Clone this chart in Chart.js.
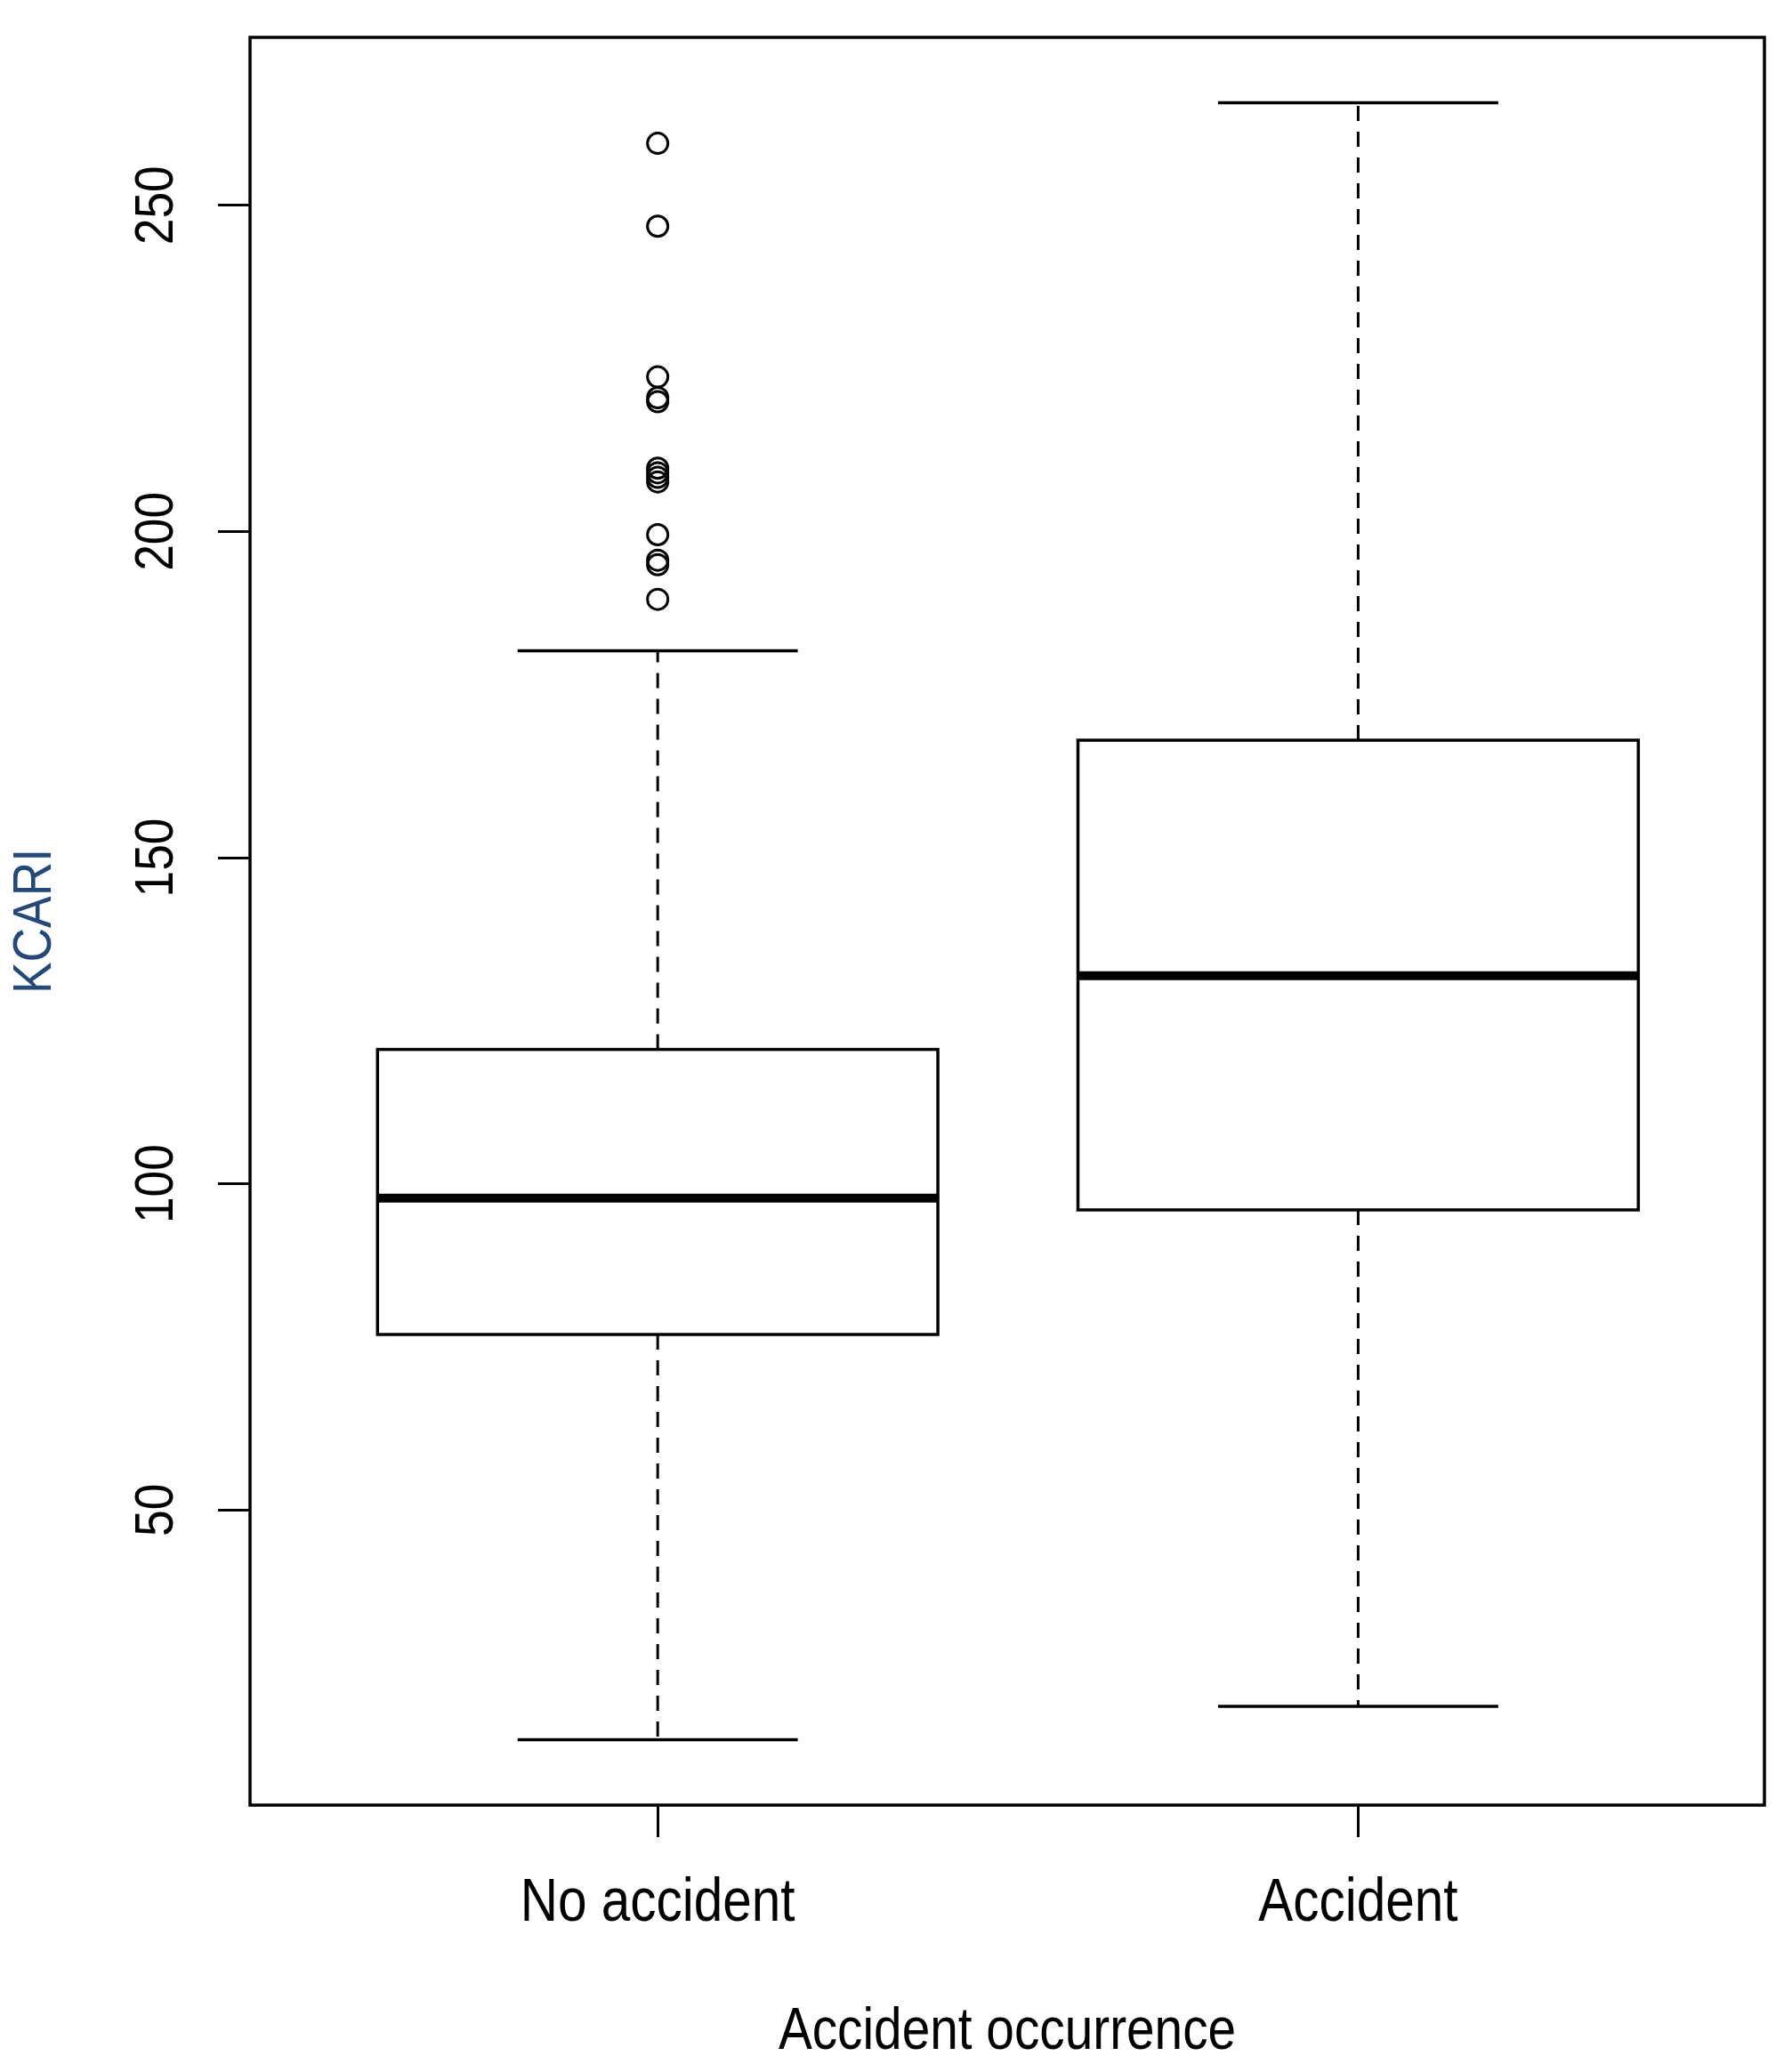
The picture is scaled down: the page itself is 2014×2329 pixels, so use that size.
<!DOCTYPE html>
<html>
<head>
<meta charset="utf-8">
<title>KCARI by accident occurrence</title>
<script src="https://cdn.jsdelivr.net/npm/chart.js@4.4.1/dist/chart.umd.min.js"></script>
<style>
    html, body { margin: 0; padding: 0; background: #fff; }
    #chart { display: block; }
</style>
</head>
<body>
<canvas id="chart" width="2014" height="2329"></canvas>
<script>
// Box plot values
const categories = ['No accident', 'Accident'];
const whiskerLow = [14.8, 19.9];
const q1 = [76.9, 96.0];
const median = [97.8, 131.9];
const q3 = [120.6, 168.0];
const whiskerHigh = [181.7, 265.7];
const outliersNoAccident = [259.5, 246.8, 223.7, 220.5, 219.9, 209.7, 209.0, 208.3, 207.6, 199.5, 195.6, 194.9, 189.6];
const outliersAccident = [];
const yTicks = [50, 100, 150, 200, 250];

const FONT = "'Liberation Sans', Arial, sans-serif";
// the original labels use a narrow face, so squeeze text along its own direction
const CONDENSE = 0.86;

function condenseText(context) {
    const fill = context.fillText.bind(context);
    context.fillText = function(text, x, y, maxWidth) {
        context.save();
        context.translate(x, y);
        context.scale(CONDENSE, 1);
        if (maxWidth === undefined) {
            fill(text, 0, 0);
        } else {
            fill(text, 0, 0, maxWidth / CONDENSE);
        }
        context.restore();
    };
}

// Draws boxes, whiskers, medians and the frame through the chart scales
const boxPlugin = {
    id: 'boxes',
    beforeDatasetsDraw(chart) {
        const { ctx, chartArea, scales: { x, y } } = chart;
        const boxHalf = 0.4;
        const capHalf = 0.2;

        function line(x1, y1, x2, y2) {
            ctx.beginPath();
            ctx.moveTo(x1, y1);
            ctx.lineTo(x2, y2);
            ctx.stroke();
        }

        ctx.save();
        ctx.strokeStyle = '#000';
        ctx.lineCap = 'butt';

        categories.forEach((cat, i) => {
            const pos = i + 1;
            const cx = x.getPixelForValue(pos);
            const bl = x.getPixelForValue(pos - boxHalf);
            const br = x.getPixelForValue(pos + boxHalf);
            const sl = x.getPixelForValue(pos - capHalf);
            const sr = x.getPixelForValue(pos + capHalf);

            // dashed whiskers
            ctx.lineWidth = 3;
            ctx.setLineDash([17, 12]);
            line(cx, y.getPixelForValue(q3[i]), cx, y.getPixelForValue(whiskerHigh[i]));
            line(cx, y.getPixelForValue(q1[i]), cx, y.getPixelForValue(whiskerLow[i]));
            ctx.setLineDash([]);

            // whisker caps
            ctx.lineWidth = 3.5;
            line(sl, y.getPixelForValue(whiskerHigh[i]), sr, y.getPixelForValue(whiskerHigh[i]));
            line(sl, y.getPixelForValue(whiskerLow[i]), sr, y.getPixelForValue(whiskerLow[i]));

            // box
            const top = y.getPixelForValue(q3[i]);
            const bottom = y.getPixelForValue(q1[i]);
            ctx.strokeRect(bl, top, br - bl, bottom - top);

            // median
            ctx.lineWidth = 10;
            line(bl, y.getPixelForValue(median[i]), br, y.getPixelForValue(median[i]));
        });

        // plot frame
        ctx.lineWidth = 3.5;
        ctx.strokeRect(chartArea.left, chartArea.top, chartArea.right - chartArea.left, chartArea.bottom - chartArea.top);
        ctx.restore();
    }
};

const outlierData = [];
outliersNoAccident.forEach(v => outlierData.push({ x: 1, y: v }));
outliersAccident.forEach(v => outlierData.push({ x: 2, y: v }));

const ctx = document.getElementById('chart').getContext('2d');
condenseText(ctx);

new Chart(ctx, {
    type: 'scatter',
    data: {
        datasets: [{
            label: 'Outliers',
            data: outlierData,
            pointStyle: 'circle',
            pointRadius: 11.5,
            pointHoverRadius: 11.5,
            borderWidth: 3,
            borderColor: '#000',
            backgroundColor: 'rgba(0,0,0,0)'
        }]
    },
    options: {
        responsive: false,
        devicePixelRatio: 1,
        animation: false,
        layout: {
            padding: { left: 0, top: 42, right: 31, bottom: 0 }
        },
        plugins: {
            legend: { display: false },
            tooltip: { enabled: false }
        },
        scales: {
            x: {
                type: 'linear',
                position: 'bottom',
                min: 0.418,
                max: 2.58,
                afterBuildTicks: scale => {
                    scale.ticks = categories.map((c, i) => ({ value: i + 1 }));
                },
                afterFit: scale => {
                    scale.height = 300;
                    scale.paddingLeft = 0;
                    scale.paddingRight = 0;
                },
                grid: {
                    drawOnChartArea: false,
                    drawTicks: true,
                    tickLength: 36,
                    tickWidth: 3,
                    tickColor: '#000'
                },
                border: { display: false },
                ticks: {
                    padding: 34,
                    color: '#000',
                    font: { family: FONT, size: 68 },
                    callback: value => categories[Math.round(value) - 1]
                },
                title: {
                    display: true,
                    text: 'Accident occurrence',
                    color: '#000',
                    font: { family: FONT, size: 66 },
                    padding: { top: 0, bottom: 5 }
                }
            },
            y: {
                type: 'linear',
                position: 'left',
                min: 4.76,
                max: 275.74,
                afterBuildTicks: scale => {
                    scale.ticks = yTicks.map(v => ({ value: v }));
                },
                afterFit: scale => {
                    scale.width = 281;
                    scale.paddingTop = 0;
                    scale.paddingBottom = 0;
                },
                grid: {
                    drawOnChartArea: false,
                    drawTicks: true,
                    tickLength: 36,
                    tickWidth: 3,
                    tickColor: '#000'
                },
                border: { display: false },
                ticks: {
                    minRotation: 90,
                    maxRotation: 90,
                    crossAlign: 'center',
                    padding: 16,
                    color: '#000',
                    font: { family: FONT, size: 62 },
                    callback: value => String(value)
                },
                title: {
                    display: true,
                    text: 'KCARI',
                    color: '#23487a',
                    font: { family: FONT, size: 62 },
                    padding: { top: 3, bottom: 0 }
                }
            }
        }
    },
    plugins: [boxPlugin]
});
</script>
</body>
</html>
